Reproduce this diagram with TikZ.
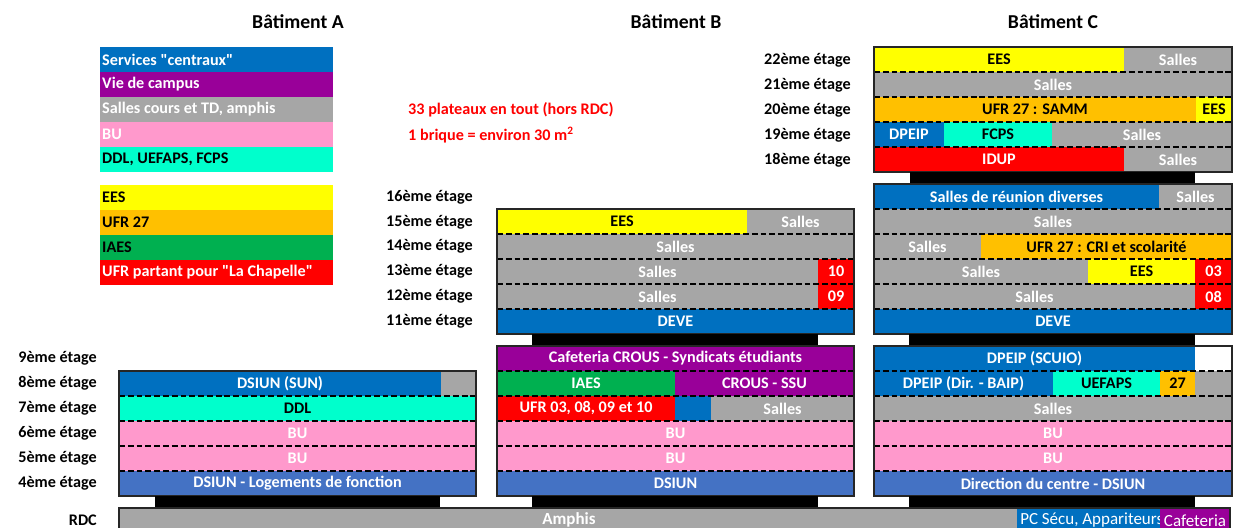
\documentclass[tikz,border=0pt]{standalone}
\usepackage{fontspec}
\setmainfont{Carlito}[Ligatures=TeXOff]
\usetikzlibrary{calc}

\definecolor{cBleu}{HTML}{0070C0}
\definecolor{cBleuC}{HTML}{4472C4}
\definecolor{cViolet}{HTML}{990099}
\definecolor{cGris}{HTML}{A6A6A6}
\definecolor{cRose}{HTML}{FF99CC}
\definecolor{cTurq}{HTML}{00FFCC}
\definecolor{cJaune}{HTML}{FFFF00}
\definecolor{cOrange}{HTML}{FFC000}
\definecolor{cVert}{HTML}{00B050}
\definecolor{cRouge}{HTML}{FF0000}

\newcommand{\corps}{\fontsize{13.8}{16}\selectfont}
% une brique : nom, x gauche, x droite, y haut, couleur, texte
\newcommand{\brique}[6]{%
  \node[brique, #5, minimum width={(#3-#2)*0.03cm}] (#1) at (#2,#4) {#6};}
% une ligne de la legende : nom, y haut, couleur, texte
\newcommand{\legende}[4]{%
  \fill[#3] (100,#2) rectangle (333,#2+25);
  \node[leg, #3] (#1) at (102,#2+12.5) {#4};}

\begin{document}
\begin{tikzpicture}[x=0.03cm, y=-0.03cm,
  brique/.style={inner sep=0pt, outer sep=0pt, minimum height=0.75cm,
    anchor=north west, font=\corps\bfseries},
  leg/.style={inner sep=0pt, anchor=west, font=\corps\bfseries},
  etage/.style={inner sep=0pt, anchor=east, font=\corps\bfseries},
  titre/.style={font=\fontsize{16.8}{19}\selectfont\bfseries},
  sep/.style={line width=1pt, dash pattern=on 5pt off 2.5pt},
  cadre/.style={draw=black!85, line width=1.2pt},
  fbleu/.style={fill=cBleu, text=white},
  fbleuc/.style={fill=cBleuC, text=white},
  fviolet/.style={fill=cViolet, text=white},
  fgris/.style={fill=cGris, text=white},
  frose/.style={fill=cRose, text=white},
  fturq/.style={fill=cTurq, text=black},
  fjaune/.style={fill=cJaune, text=black},
  forange/.style={fill=cOrange, text=black},
  fvert/.style={fill=cVert, text=white},
  frouge/.style={fill=cRouge, text=white}]
  \useasboundingbox (0,0) rectangle (1245,527);

  % titres
  \node[titre] (batA) at (298,22) {Bâtiment A};
  \node[titre] (batB) at (676,22) {Bâtiment B};
  \node[titre] (batC) at (1053,22) {Bâtiment C};

  % legende
  \legende{lg1}{47}{fbleu}{Services "centraux"}
  \legende{lg2}{72}{fviolet}{Vie de campus}
  \legende{lg3}{97}{fgris}{Salles cours et TD, amphis}
  \legende{lg4}{122}{frose}{BU}
  \legende{lg5}{147}{fturq}{DDL, UEFAPS, FCPS}
  \legende{lg6}{185}{fjaune}{EES}
  \legende{lg7}{210}{forange}{UFR 27}
  \legende{lg8}{235}{fjaune, fill=cVert}{IAES}
  \legende{lg9}{260}{frouge}{UFR partant pour "La Chapelle"}

  \node[leg, text=cRouge] (note1) at (408,110) {33 plateaux en tout (hors RDC)};
  \node[leg, text=cRouge] (note2) at (408,135) {1 brique = environ 30 m\textsuperscript{2}};

  % noms des etages
  \foreach \n/\y in {22/60, 21/85, 20/110, 19/135, 18/160}
    \node[etage] (eC\n) at (851,\y) {\n ème étage};
  \foreach \n/\y in {16/197, 15/222, 14/246, 13/271, 12/296, 11/321}
    \node[etage] (eB\n) at (473,\y) {\n ème étage};
  \foreach \n/\y in {9/358, 8/383, 7/408, 6/433, 5/458, 4/483}
    \node[etage] (eA\n) at (97,\y) {\n ème étage};
  \node[etage] (eRDC) at (97,520) {RDC};

  % Batiment C, haut (22 -> 18)
  \brique{c22a}{874}{1124}{47}{fjaune}{EES}
  \brique{c22b}{1124}{1232}{47}{fgris}{Salles}
  \brique{c21}{874}{1232}{72}{fgris}{Salles}
  \brique{c20a}{874}{1196}{97}{forange}{UFR 27 : SAMM}
  \brique{c20b}{1196}{1232}{97}{fjaune}{EES}
  \brique{c19a}{874}{944}{122}{fbleu}{DPEIP}
  \brique{c19b}{944}{1052}{122}{fturq}{FCPS}
  \brique{c19c}{1052}{1232}{122}{fgris}{Salles}
  \brique{c18a}{874}{1124}{147}{frouge}{IDUP}
  \brique{c18b}{1124}{1232}{147}{fgris}{Salles}
  \foreach \y in {72,97,122,147} \draw[sep] (874,\y) -- (1232,\y);
  \draw[cadre] (874,47) rectangle (1232,172);
  \fill[black] (910,172) rectangle (1195,184);

  % Batiment C, milieu (16 -> 11)
  \brique{c16a}{874}{1159}{184}{fbleu}{Salles de réunion diverses}
  \brique{c16b}{1159}{1232}{184}{fgris}{Salles}
  \brique{c15}{874}{1232}{209}{fgris}{Salles}
  \brique{c14a}{874}{981}{234}{fgris}{Salles}
  \brique{c14b}{981}{1232}{234}{forange}{UFR 27 : CRI et scolarité}
  \brique{c13a}{874}{1088}{259}{fgris}{Salles}
  \brique{c13b}{1088}{1195}{259}{fjaune}{EES}
  \brique{c13c}{1195}{1232}{259}{frouge}{03}
  \brique{c12a}{874}{1195}{284}{fgris}{Salles}
  \brique{c12b}{1195}{1232}{284}{frouge}{08}
  \brique{c11}{874}{1232}{309}{fbleu}{DEVE}
  \foreach \y in {209,234,259,284,309} \draw[sep] (874,\y) -- (1232,\y);
  \draw[cadre] (874,184) rectangle (1232,334);
  \fill[black] (909,334) rectangle (1195,346);

  % Batiment C, bas (9 -> 4)
  \brique{c9}{874}{1195}{346}{fbleu}{DPEIP (SCUIO)}
  \brique{c8a}{874}{1053}{371}{fbleu}{DPEIP (Dir. - BAIP)}
  \brique{c8b}{1053}{1160}{371}{fturq}{UEFAPS}
  \brique{c8c}{1160}{1195}{371}{forange}{27}
  \brique{c8d}{1195}{1232}{371}{fgris}{}
  \brique{c7}{874}{1232}{396}{fgris}{Salles}
  \brique{c6}{874}{1232}{421}{frose}{BU}
  \brique{c5}{874}{1232}{446}{frose}{BU}
  \brique{c4}{874}{1232}{471}{fbleuc}{Direction du centre - DSIUN}
  \foreach \y in {371,396,421,446,471} \draw[sep] (874,\y) -- (1232,\y);
  \draw[cadre] (874,346) rectangle (1232,496);
  \fill[black] (909,496) rectangle (1195,508);

  % Batiment B, milieu (15 -> 11)
  \brique{b15a}{497}{747}{209}{fjaune}{EES}
  \brique{b15b}{747}{854}{209}{fgris}{Salles}
  \brique{b14}{497}{854}{234}{fgris}{Salles}
  \brique{b13a}{497}{818}{259}{fgris}{Salles}
  \brique{b13b}{818}{854}{259}{frouge}{10}
  \brique{b12a}{497}{818}{284}{fgris}{Salles}
  \brique{b12b}{818}{854}{284}{frouge}{09}
  \brique{b11}{497}{854}{309}{fbleu}{DEVE}
  \foreach \y in {234,259,284,309} \draw[sep] (497,\y) -- (854,\y);
  \draw[cadre] (497,209) rectangle (854,334);
  \fill[black] (532,334) rectangle (818,346);

  % Batiment B, bas (9 -> 4)
  \brique{b9}{497}{854}{346}{fviolet}{Cafeteria CROUS - Syndicats étudiants}
  \brique{b8a}{497}{675}{371}{fvert}{IAES}
  \brique{b8b}{675}{854}{371}{fviolet}{CROUS - SSU}
  \brique{b7a}{497}{675}{396}{frouge}{UFR 03, 08, 09 et 10}
  \brique{b7b}{675}{711}{396}{fbleu}{}
  \brique{b7c}{711}{854}{396}{fgris}{Salles}
  \brique{b6}{497}{854}{421}{frose}{BU}
  \brique{b5}{497}{854}{446}{frose}{BU}
  \brique{b4}{497}{854}{471}{fbleuc}{DSIUN}
  \foreach \y in {371,396,421,446,471} \draw[sep] (497,\y) -- (854,\y);
  \draw[cadre] (497,346) rectangle (854,496);
  \fill[black] (532,496) rectangle (818,508);

  % Batiment A (8 -> 4)
  \brique{a8a}{119}{441}{371}{fbleu}{DSIUN (SUN)}
  \brique{a8b}{441}{476}{371}{fgris}{}
  \brique{a7}{119}{476}{396}{fturq}{DDL}
  \brique{a6}{119}{476}{421}{frose}{BU}
  \brique{a5}{119}{476}{446}{frose}{BU}
  \brique{a4}{119}{476}{471}{fbleuc}{DSIUN - Logements de fonction}
  \foreach \y in {396,421,446,471} \draw[sep] (119,\y) -- (476,\y);
  \draw[cadre] (119,371) rectangle (476,496);
  \fill[black] (155,496) rectangle (440,508);

  % RDC commun
  \begin{scope}
    \clip (0,0) rectangle (1245,527);
    \brique{rdc}{119}{1230}{508}{fgris}{}
    \node[font=\fontsize{14.5}{16}\selectfont\bfseries, text=white] (amphis) at (569,520) {Amphis};
    \brique{pcsecu}{1017}{1160}{508}{fbleu}{}
    \node[anchor=west, inner sep=0pt, font=\fontsize{14.5}{16}\selectfont, text=white] (pc) at (1020,520) {PC Sécu, Appariteurs};
    \brique{cafet}{1160}{1230}{508}{fviolet, font=\fontsize{14.5}{16}\selectfont}{Cafeteria}
    \draw[cadre] (119,508) rectangle (1230,540);
  \end{scope}
\end{tikzpicture}
\end{document}
